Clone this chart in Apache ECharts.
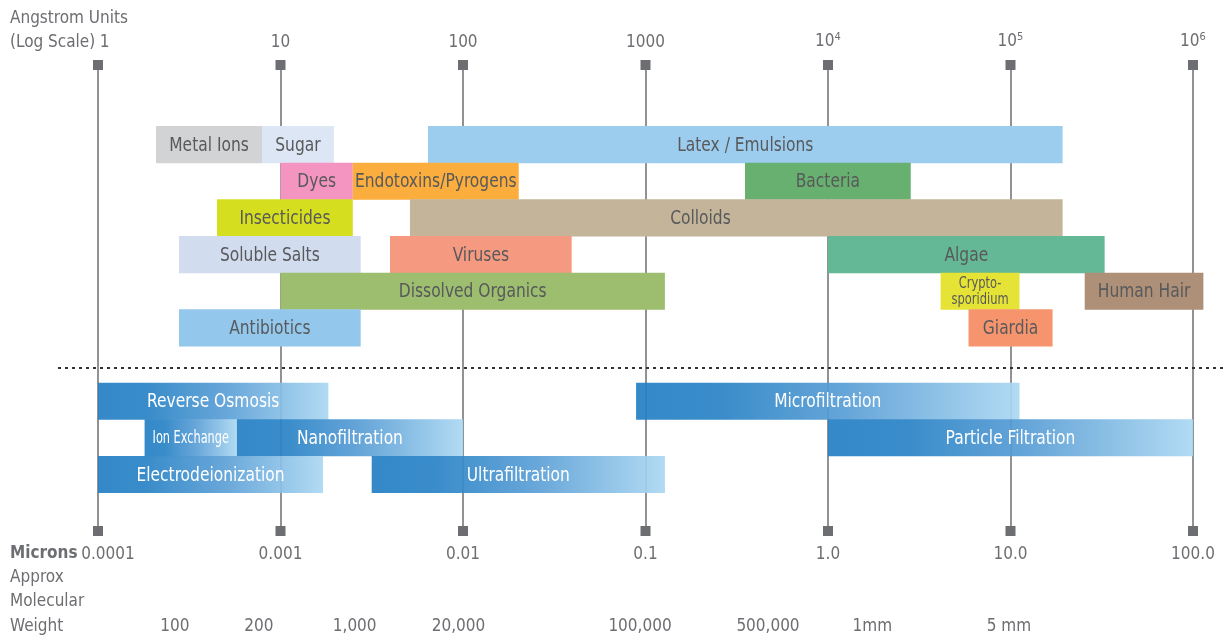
<!DOCTYPE html>
<html>
<head>
<meta charset="utf-8">
<script src="https://cdn.jsdelivr.net/npm/echarts@6.0.0/dist/echarts.min.js"></script>
<style>
html,body{margin:0;padding:0;background:#fff;}
#chart{width:1223px;height:640px;}
</style>
</head>
<body>
<div id="chart"></div>
<script>
// ---------- DATA ----------
// Angstrom scale decades (top axis)
const decadeTicks = [1, 10, 100, 1000, 10000, 100000, 1000000];
const angstromLabels = ['1', '10', '100', '1000', '10{sup|4}', '10{sup|5}', '10{sup|6}'];
const micronLabels = ['0.0001', '0.001', '0.01', '0.1', '1.0', '10.0', '100.0'];

// Substances (top section), sizes in Angstrom
const topNames = ['Metal Ions', 'Sugar', 'Latex / Emulsions', 'Dyes', 'Endotoxins/Pyrogens', 'Bacteria',
  'Insecticides', 'Colloids', 'Soluble Salts', 'Viruses', 'Algae', 'Dissolved Organics',
  'Crypto-\nsporidium', 'Human Hair', 'Antibiotics', 'Giardia'];
const topStart = [2.08, 7.92, 64.3, 10, 24.9, 3510, 4.49, 51.2, 2.78, 39.8, 10000, 10, 41400, 255000, 2.78, 58900];
const topEnd = [7.92, 19.6, 193000, 24.9, 202, 28400, 24.9, 193000, 27.5, 394, 328000, 1277, 112000, 1140000, 27.5, 170000];
const topRow = [0, 0, 0, 1, 1, 1, 2, 2, 3, 3, 3, 4, 4, 4, 5, 5];
const topColors = ['#d1d3d4', '#dde6f4', '#9dcdee', '#f395c0', '#fbad3e', '#68b06f',
  '#d5df1f', '#c4b49a', '#d1dcef', '#f59a80', '#65b895', '#9dbd6f',
  '#e5e335', '#ae9078', '#93c8ec', '#f6956d'];
const labelAnchor = { 'Colloids': 2000 };

// Processes (bottom section)
const procNames = ['Reverse Osmosis', 'Microfiltration', 'Ion Exchange', 'Nanofiltration',
  'Particle Filtration', 'Electrodeionization', 'Ultrafiltration'];
const procStart = [1, 888, 1.8, 5.77, 10000, 1, 31.6];
const procEnd = [18.3, 112000, 5.77, 100, 1000000, 17.1, 1278];
const procRow = [7, 7, 8, 8, 8, 9, 9];

// Approx molecular weight labels and their positions on the Angstrom scale
const mwLabels = ['100', '200', '1,000', '20,000', '100,000', '500,000', '1mm', '5 mm'];
const mwAt = [2.64, 7.62, 25.5, 94.5, 933, 4690, 17500, 98100];

// ---------- STYLE ----------
const FONT = "'Liberation Sans Narrow', 'DejaVu Sans Condensed', 'Roboto', sans-serif";
const GREY = '#6d6e71';
const TXT = '#58595b';
const Y_MIN = -2.163, Y_MAX = 10.545;
const DIVIDER_ROW = 6.1;

const chart = echarts.init(document.getElementById('chart'));

function barItem(api, s, e, r) {
  const p0 = api.coord([s, r - 0.5]);
  const p1 = api.coord([e, r + 0.5]);
  return { x: p0[0], y: p0[1], w: p1[0] - p0[0], h: p1[1] - p0[1] };
}

function label(text, cx, cy, fill, size, sx, lh) {
  return {
    type: 'text', x: cx, y: cy, scaleX: sx, originX: 0, originY: 0,
    style: { text: text, x: 0, y: 0, align: 'center', verticalAlign: 'middle',
      fill: fill, font: size + 'px ' + FONT, lineHeight: lh || size + 2 }
  };
}

function renderTop(params, api) {
  const i = params.dataIndex;
  const b = barItem(api, api.value(0), api.value(1), api.value(2));
  const name = topNames[i];
  let cx = b.x + b.w / 2;
  if (labelAnchor[name]) cx = api.coord([labelAnchor[name], api.value(2)])[0];
  const small = name.indexOf('\n') >= 0;
  return {
    type: 'group',
    children: [
      { type: 'rect', shape: { x: b.x, y: b.y, width: b.w, height: b.h + 0.5 }, style: { fill: topColors[i] } },
      small ? label(name, cx, b.y + b.h / 2 + 1, TXT, 15, 0.85, 16)
            : label(name, cx, b.y + b.h / 2 + 1, TXT, 20, 0.86)
    ]
  };
}

function renderProc(params, api) {
  const i = params.dataIndex;
  const b = barItem(api, api.value(0), api.value(1), api.value(2));
  const name = procNames[i];
  const small = name === 'Ion Exchange';
  return {
    type: 'group',
    children: [
      { type: 'rect', shape: { x: b.x, y: b.y, width: b.w, height: b.h + 0.3 },
        style: { opacity: 0.93, fill: new echarts.graphic.LinearGradient(0, 0, 1, 0, [
          { offset: 0, color: '#2680c5' }, { offset: 0.22, color: '#2b84c6' },
          { offset: 0.55, color: '#5b9fd6' }, { offset: 1, color: '#acd8f2' }]) } },
      small ? label(name, b.x + b.w / 2, b.y + b.h / 2 + 1, '#ffffff', 17, 0.74)
            : label(name, b.x + b.w / 2, b.y + b.h / 2 + 1, '#ffffff', 20, 0.86)
    ]
  };
}

const squares = [];
decadeTicks.forEach(v => { squares.push([v, Y_MIN]); squares.push([v, Y_MAX]); });

const option = {
  backgroundColor: '#ffffff',
  animation: false,
  grid: { left: 98, right: 30, top: 65, bottom: 109 },
  xAxis: [
    {
      type: 'log', logBase: 10, min: 1, max: 1000000, position: 'top',
      axisLine: { show: false }, axisTick: { show: false },
      splitLine: { show: true, lineStyle: { color: GREY, width: 1.5 } },
      axisLabel: {
        margin: 14, color: GREY, fontSize: 17, fontFamily: FONT,
        formatter: function (v) {
          const k = Math.round(Math.log10(v));
          return k === 0 ? '{first|1}' : angstromLabels[k];
        },
        rich: {
          first: { color: GREY, fontSize: 17, fontFamily: FONT, padding: [0, 0, 0, 13] },
          sup: { color: GREY, fontSize: 11, fontFamily: FONT, padding: [0, 0, 8, 0] }
        }
      }
    },
    {
      type: 'log', logBase: 10, min: 1, max: 1000000, position: 'bottom',
      axisLine: { show: false }, axisTick: { show: false }, splitLine: { show: false },
      axisLabel: {
        margin: 15, color: GREY, fontSize: 17, fontFamily: FONT,
        formatter: function (v) {
          const k = Math.round(Math.log10(v));
          return k === 0 ? '{first|' + micronLabels[0] + '}' : micronLabels[k];
        },
        rich: { first: { color: GREY, fontSize: 17, fontFamily: FONT, padding: [0, 0, 0, 20] } }
      }
    }
  ],
  yAxis: { type: 'value', min: Y_MIN, max: Y_MAX, inverse: true, show: false, splitLine: { show: false } },
  series: [
    {
      type: 'custom', renderItem: renderTop, clip: false, z: 3,
      data: topNames.map((n, i) => [topStart[i], topEnd[i], topRow[i]])
    },
    {
      type: 'custom', renderItem: renderProc, clip: false, z: 3,
      data: procNames.map((n, i) => [procStart[i], procEnd[i], procRow[i]])
    },
    {
      type: 'scatter', symbol: 'rect', symbolSize: [10, 10], clip: false, z: 4, silent: true,
      itemStyle: { color: GREY, opacity: 1 }, data: squares
    }
  ]
};
chart.setOption(option);

// text & divider placed through the chart's own scales
const yDiv = chart.convertToPixel({ xAxisIndex: 0, yAxisIndex: 0 }, [1, DIVIDER_ROW])[1];
const txt = (t, x, y, extra) => Object.assign({ type: 'text', x: x, y: y,
  style: Object.assign({ text: t, fill: GREY, font: '17px ' + FONT, verticalAlign: 'middle', align: 'left' }, extra || {}) });
const graphics = [
  txt('Angstrom Units', 10, 19),
  txt('(Log Scale)', 10, 43),
  txt('Microns', 10, 554, { font: 'bold 17px ' + FONT }),
  txt('Approx', 10, 578),
  txt('Molecular', 10, 602),
  txt('Weight', 10, 627),
  { type: 'line', shape: { x1: 58, y1: yDiv, x2: 1223, y2: yDiv }, z: 10,
    style: { stroke: '#333333', lineWidth: 2, lineDash: [3, 4] } }
];
mwLabels.forEach((l, i) => {
  const x = chart.convertToPixel({ xAxisIndex: 0 }, mwAt[i]);
  graphics.push(txt(l, x, 627, { align: 'center' }));
});
chart.setOption({ graphic: graphics });
</script>
</body>
</html>
